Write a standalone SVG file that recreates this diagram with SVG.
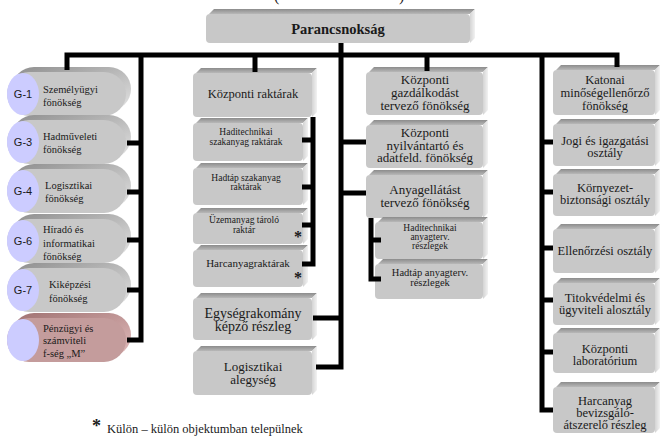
<svg xmlns="http://www.w3.org/2000/svg" width="670" height="436" viewBox="0 0 670 436">
<defs>
<linearGradient id="gTop" x1="0" y1="0" x2="0" y2="1"><stop offset="0" stop-color="#8C8C8C"/><stop offset="1" stop-color="#B8B8B8"/></linearGradient>
<linearGradient id="gSide" x1="0" y1="0" x2="1" y2="0"><stop offset="0" stop-color="#D4D4D4"/><stop offset="1" stop-color="#F2F2F2"/></linearGradient>
<linearGradient id="gPill" x1="0" y1="0" x2="1" y2="1"><stop offset="0" stop-color="#8E8E8E"/><stop offset="1" stop-color="#E4E4E4"/></linearGradient>
<linearGradient id="gPillR" x1="0" y1="0" x2="1" y2="1"><stop offset="0" stop-color="#A07272"/><stop offset="1" stop-color="#E2BCBC"/></linearGradient>
</defs>
<style>
.f{fill:#C8C8C8}
.t{fill:url(#gTop)}
.s{fill:url(#gSide)}
.pb{fill:url(#gPill)}
.pf{fill:#C8C8C8}
.rb{fill:url(#gPillR)}
.rf{fill:#C49C9C}
.el{fill:#CCCCFF}
text{font-family:"Liberation Serif","Times New Roman",serif;fill:#1a1a1a}
.c{text-anchor:middle}
.g{font-family:"Liberation Sans",Arial,sans-serif;font-size:11px;text-anchor:middle}
.l{font-size:10.5px}
.m{font-size:13px}
.r{font-size:12.5px}
.sm{font-size:9.5px}
.ast{font-size:16px;font-weight:bold}
.conn path{stroke:#000;stroke-width:5;fill:none}
</style>
<rect width="670" height="436" fill="#fff"/>
<text x="274" y="1" font-size="16">(</text>
<text x="399" y="1" font-size="16">)</text>

<g id="parancsnoksag">
<polygon class="t" points="209,14 214,9 475,9 470,14"/>
<polygon class="s" points="470,14 475,9 475,38 470,43"/>
<rect class="f" x="206" y="14" width="264" height="29" rx="4"/>
<text class="c" x="338" y="33.5" font-size="14.5" font-weight="bold">Parancsnokság</text>
</g>

<g id="g1">
<rect class="pb" x="12" y="67" width="119" height="44" rx="22"/>
<rect class="pf" x="7" y="72" width="119" height="44" rx="22"/>
<ellipse class="el" cx="23" cy="94" rx="16" ry="21"/>
<text class="g" x="23" y="98">G-1</text>
<text class="l" x="43" y="93">Személyügyi</text>
<text class="l" x="43" y="105.5">fönökség</text>
</g>
<g id="g3">
<rect class="pb" x="12" y="115" width="119" height="44" rx="22"/>
<rect class="pf" x="7" y="120" width="119" height="44" rx="22"/>
<ellipse class="el" cx="23" cy="142" rx="16" ry="21"/>
<text class="g" x="23" y="146">G-3</text>
<text class="l" x="43" y="140">Hadműveleti</text>
<text class="l" x="43" y="153">fönökség</text>
</g>
<g id="g4">
<rect class="pb" x="12" y="164" width="119" height="44" rx="22"/>
<rect class="pf" x="7" y="169" width="119" height="44" rx="22"/>
<ellipse class="el" cx="23" cy="191" rx="16" ry="21"/>
<text class="g" x="23" y="195">G-4</text>
<text class="l" x="45" y="189">Logisztikai</text>
<text class="l" x="45" y="202">fönökség</text>
</g>
<g id="g6">
<rect class="pb" x="12" y="214" width="119" height="44" rx="22"/>
<rect class="pf" x="7" y="219" width="119" height="44" rx="22"/>
<ellipse class="el" cx="23" cy="241" rx="16" ry="21"/>
<text class="g" x="23" y="245">G-6</text>
<text class="l" x="43" y="233">Híradó és</text>
<text class="l" x="43" y="246.5">informatikai</text>
<text class="l" x="43" y="260">fönökség</text>
</g>
<g id="g7">
<rect class="pb" x="12" y="263" width="119" height="44" rx="22"/>
<rect class="pf" x="7" y="268" width="119" height="44" rx="22"/>
<ellipse class="el" cx="23" cy="290" rx="16" ry="21"/>
<text class="g" x="23" y="294">G-7</text>
<text class="l" x="49" y="288">Kiképzési</text>
<text class="l" x="49" y="302">fönökség</text>
</g>
<g id="penzugyi">
<rect class="rb" x="12" y="313" width="119" height="44" rx="22"/>
<rect class="rf" x="7" y="318" width="119" height="44" rx="22"/>
<ellipse class="el" cx="23" cy="340" rx="16" ry="21"/>
<text class="l" x="43" y="331.5">Pénzügyi és</text>
<text class="l" x="43" y="344">számviteli</text>
<text class="l" x="43" y="356.5">f-ség „M”</text>
</g>

<g id="kozponti-raktarak">
<polygon class="t" points="196,73 201,68 317,68 312,73"/>
<polygon class="s" points="312,73 317,68 317,112 312,117"/>
<rect class="f" x="193" y="73" width="119" height="44" rx="4"/>
<text class="c" x="253" y="98" font-size="12.5">Központi raktárak</text>
</g>
<g id="haditechnikai-raktarak">
<polygon class="t" points="196,123 201,118 308,118 303,123"/>
<polygon class="s" points="303,123 308,118 308,156 303,161"/>
<rect class="f" x="193" y="123" width="110" height="38" rx="4"/>
<text class="c sm" x="246" y="135">Haditechnikai</text>
<text class="c sm" x="246" y="145">szakanyag raktárak</text>
</g>
<g id="hadtap-raktarak">
<polygon class="t" points="196,168 201,163 308,163 303,168"/>
<polygon class="s" points="303,168 308,163 308,200 303,205"/>
<rect class="f" x="193" y="168" width="110" height="37" rx="4"/>
<text class="c sm" x="246" y="180.5">Hadtáp szakanyag</text>
<text class="c sm" x="246" y="190">raktárak</text>
</g>
<g id="uzemanyag">
<polygon class="t" points="196,213 201,208 308,208 303,213"/>
<polygon class="s" points="303,213 308,208 308,239 303,244"/>
<rect class="f" x="193" y="213" width="110" height="31" rx="4"/>
<text class="c sm" x="244" y="223">Üzemanyag tároló</text>
<text class="c sm" x="244" y="232.5">raktár</text>
<text class="ast" x="294" y="242">*</text>
</g>
<g id="harcanyagraktarak">
<polygon class="t" points="196,250 201,245 308,245 303,250"/>
<polygon class="s" points="303,250 308,245 308,282 303,287"/>
<rect class="f" x="193" y="250" width="110" height="37" rx="4"/>
<text class="c" x="248" y="267" font-size="11">Harcanyagraktárak</text>
<text class="ast" x="294" y="283">*</text>
</g>
<g id="egysegrakomany">
<polygon class="t" points="196,298 201,293 317,293 312,298"/>
<polygon class="s" points="312,298 317,293 317,335 312,340"/>
<rect class="f" x="193" y="298" width="119" height="42" rx="4"/>
<text class="c" x="253" y="317.5" font-size="14">Egységrakomány</text>
<text class="c" x="253" y="331" font-size="14">képző részleg</text>
</g>
<g id="logisztikai-alegyseg">
<polygon class="t" points="196,351 201,346 317,346 312,351"/>
<polygon class="s" points="312,351 317,346 317,390 312,395"/>
<rect class="f" x="193" y="351" width="119" height="44" rx="4"/>
<text class="c" x="253" y="371" font-size="13">Logisztikai</text>
<text class="c" x="253" y="384" font-size="13">alegység</text>
</g>

<g id="gazdalkodast">
<polygon class="t" points="369,72 374,67 488,67 483,72"/>
<polygon class="s" points="483,72 488,67 488,110 483,115"/>
<rect class="f" x="366" y="72" width="117" height="43" rx="4"/>
<text class="c m" x="425" y="84">Központi</text>
<text class="c m" x="425" y="97">gazdálkodást</text>
<text class="c m" x="425" y="110">tervező fönökség</text>
</g>
<g id="nyilvantarto">
<polygon class="t" points="369,125 374,120 488,120 483,125"/>
<polygon class="s" points="483,125 488,120 488,163 483,168"/>
<rect class="f" x="366" y="125" width="117" height="43" rx="4"/>
<text class="c m" x="425" y="137">Központi</text>
<text class="c m" x="425" y="149.5">nyilvántartó és</text>
<text class="c m" x="425" y="162">adatfeld. fönökség</text>
</g>
<g id="anyagellatast">
<polygon class="t" points="369,175 374,170 488,170 483,175"/>
<polygon class="s" points="483,175 488,170 488,213 483,218"/>
<rect class="f" x="366" y="175" width="117" height="43" rx="4"/>
<text class="c m" x="425" y="194">Anyagellátást</text>
<text class="c m" x="425" y="207">tervező fönökség</text>
</g>
<g id="haditechnikai-anyagterv">
<polygon class="t" points="378,222 383,217 488,217 483,222"/>
<polygon class="s" points="483,222 488,217 488,254 483,259"/>
<rect class="f" x="375" y="222" width="108" height="37" rx="4"/>
<text class="c sm" x="430" y="230.5">Haditechnikai</text>
<text class="c sm" x="430" y="239.5">anyagterv.</text>
<text class="c sm" x="430" y="248.5">részlegek</text>
</g>
<g id="hadtap-anyagterv">
<polygon class="t" points="378,264 383,259 488,259 483,264"/>
<polygon class="s" points="483,264 488,259 488,294 483,299"/>
<rect class="f" x="375" y="264" width="108" height="35" rx="4"/>
<text class="c" x="430" y="276" font-size="10.5">Hadtáp anyagterv.</text>
<text class="c" x="430" y="285.5" font-size="10.5">részlegek</text>
</g>

<g id="katonai">
<polygon class="t" points="556,70 561,65 660,65 655,70"/>
<polygon class="s" points="655,70 660,65 660,110 655,115"/>
<rect class="f" x="553" y="70" width="102" height="45" rx="4"/>
<text class="c r" x="605" y="84">Katonai</text>
<text class="c r" x="605" y="97">minőségellenőrző</text>
<text class="c r" x="605" y="110">fönökség</text>
</g>
<g id="jogi">
<polygon class="t" points="556,124 561,119 660,119 655,124"/>
<polygon class="s" points="655,124 660,119 660,161 655,166"/>
<rect class="f" x="553" y="124" width="102" height="42" rx="4"/>
<text class="c r" x="605" y="144.5">Jogi és igazgatási</text>
<text class="c r" x="605" y="157">osztály</text>
</g>
<g id="kornyezet">
<polygon class="t" points="556,174 561,169 660,169 655,174"/>
<polygon class="s" points="655,174 660,169 660,211 655,216"/>
<rect class="f" x="553" y="174" width="102" height="42" rx="4"/>
<text class="c r" x="605" y="191.5">Környezet-</text>
<text class="c r" x="605" y="204">biztonsági osztály</text>
</g>
<g id="ellenorzesi">
<polygon class="t" points="556,229 561,224 660,224 655,229"/>
<polygon class="s" points="655,229 660,224 660,268 655,273"/>
<rect class="f" x="553" y="229" width="102" height="44" rx="4"/>
<text class="c r" x="605" y="255">Ellenőrzési osztály</text>
</g>
<g id="titokvedelmi">
<polygon class="t" points="556,283 561,278 660,278 655,283"/>
<polygon class="s" points="655,283 660,278 660,320 655,325"/>
<rect class="f" x="553" y="283" width="102" height="42" rx="4"/>
<text class="c r" x="605" y="301.5">Titokvédelmi és</text>
<text class="c r" x="605" y="314">ügyviteli alosztály</text>
</g>
<g id="laboratorium">
<polygon class="t" points="556,333 561,328 660,328 655,333"/>
<polygon class="s" points="655,333 660,328 660,368 655,373"/>
<rect class="f" x="553" y="333" width="102" height="40" rx="4"/>
<text class="c r" x="605" y="352.5">Központi</text>
<text class="c r" x="605" y="365">laboratórium</text>
</g>
<g id="harcanyag-bevizsgalo">
<polygon class="t" points="556,387 561,382 660,382 655,387"/>
<polygon class="s" points="655,387 660,382 660,428 655,433"/>
<rect class="f" x="553" y="387" width="102" height="46" rx="4"/>
<text class="c r" x="605" y="404.5">Harcanyag</text>
<text class="c r" x="605" y="416.5">bevizsgáló-</text>
<text class="c r" x="605" y="428.5">átszerelő részleg</text>
</g>

<g class="conn">
<path d="M67 70V55H617V67"/>
<path d="M316 367H341V43"/>
<path d="M127 340H141V55"/>
<path d="M141 143H127M141 192H127M141 240H127M141 290H127"/>
<path d="M255 55V72"/>
<path d="M302 264H313V117M313 140H302M313 187H302M313 225H302"/>
<path d="M341 318H313M341 142H366M341 193H366"/>
<path d="M427 55V71"/>
<path d="M371 218V279H381M371 240H381"/>
<path d="M542 55V410H553M542 142H553M542 192H553M542 248H553M542 300H553M542 352H553"/>
</g>

<text x="92" y="432" font-size="18" font-weight="bold">*</text>
<text x="107" y="432.5" font-size="12.5">Külön – külön objektumban települnek</text>
</svg>
